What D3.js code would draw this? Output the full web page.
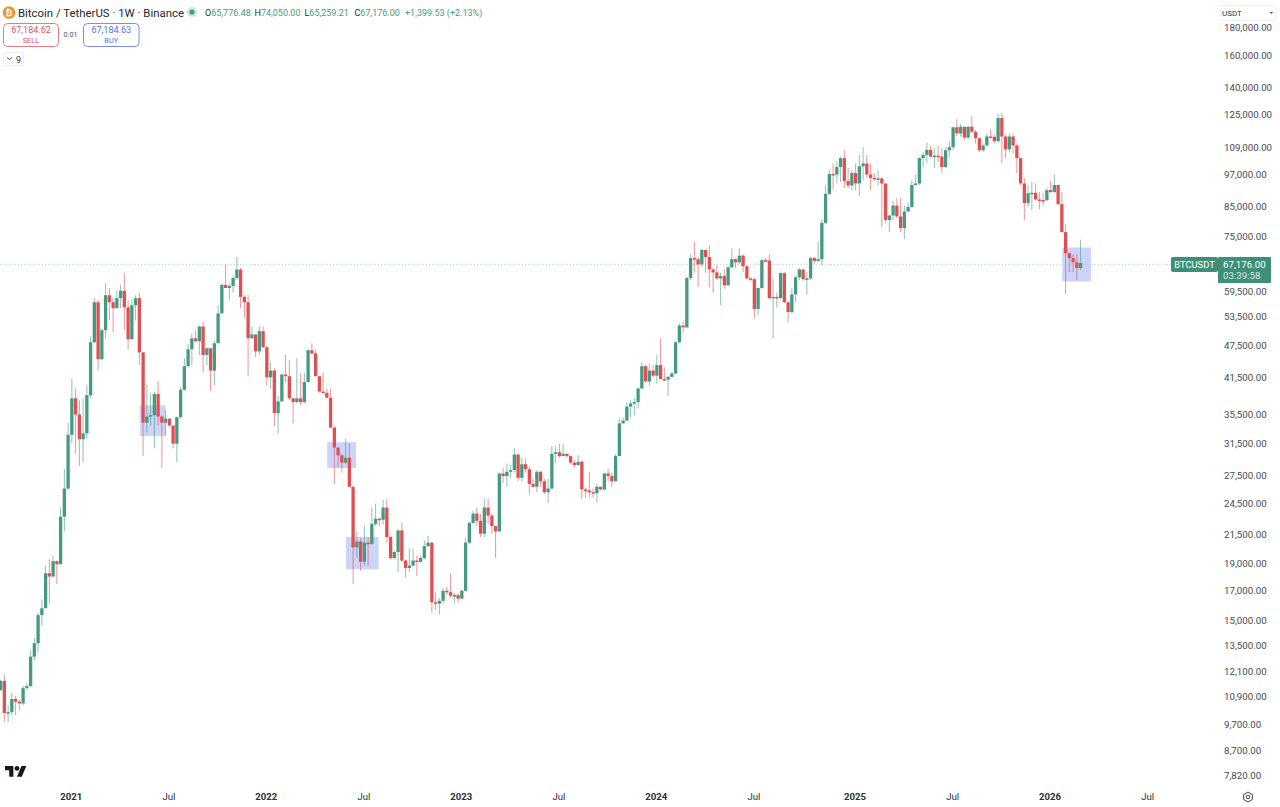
<!DOCTYPE html>
<html><head><meta charset="utf-8">
<script src="https://cdn.jsdelivr.net/npm/d3@7"></script>
<style>
html,body{margin:0;padding:0;background:#fff;overflow:hidden}
svg{display:block;font-family:Roboto,sans-serif}
</style></head><body><div id="chart"></div>
<script>
const firstOpen = 11200;
const closes = [
11650,10180,10220,10800,10680,10600,11300,11400,12900,13650,
15350,15800,18300,18050,19250,19000,23200,26100,32700,38100,
35600,32100,32900,38600,48200,57000,44900,50700,58700,57000,
55600,58000,59800,55800,48800,56300,58000,46200,34400,35300,
35500,38800,35300,34400,35000,34000,31500,35200,39500,43600,
46800,49000,48400,51500,45700,47000,42800,48000,54400,61300,
60500,61000,63100,65400,58300,57000,49000,49800,46400,50500,
47200,41600,42800,35800,37600,42100,41800,38100,37500,38100,
37500,40800,46600,46000,41800,39200,39000,38200,33700,31000,
30000,29100,29700,26300,20400,20900,19200,20800,20700,22500,
23000,22900,24100,21300,19500,20000,21900,19300,18700,18900,
19300,19200,19500,20500,20800,16200,16100,16300,17000,16900,
16650,16700,16450,17000,20800,22600,23500,22800,21600,24100,
23300,22300,21800,27800,27500,28000,28200,30100,27300,28900,
28300,26600,26300,28000,26900,25700,26100,30200,30400,29900,
30200,29900,29100,28800,29200,26000,25900,25700,25600,26300,
26000,27800,27500,26900,29900,34300,34700,36800,37300,37500,
39700,43600,40900,42800,41900,43800,41300,41200,41700,42300,
48200,51700,51300,63100,68600,68300,66800,71000,68900,65400,
64600,63000,63600,61200,66000,68300,67400,69300,66300,63000,
62800,55400,60500,68000,67900,58000,58300,58000,64400,57000,
54700,58900,63300,65400,62800,63000,68600,67800,68300,79500,
89800,97600,97400,100500,104300,94800,93000,98000,93800,100800,
102000,97400,96000,95500,95800,93800,80500,82000,85500,81700,
77800,83400,85000,93200,93800,104300,105700,108000,105000,105400,
105000,100500,107800,109200,118700,115700,119000,113700,119000,116500,
113400,107800,110000,114200,114000,112000,123400,114200,108200,114200,
110000,104300,93800,86400,90000,90200,87700,87500,87400,91200,
90500,93200,86000,76500,70000,68600,67400,65776,67176];
const highs = [
11700,11950,10520,11100,10950,10770,11400,11500,13250,13950,
15500,16400,18900,19400,19700,19300,24100,28300,34400,41400,
39700,37800,38100,40300,49400,58000,57500,51100,61700,60500,
58000,60000,61300,64500,57500,57700,58700,59300,46200,40300,
39000,39200,41000,35500,36300,35000,34000,35300,40000,45100,
47800,50000,50700,51700,52600,47200,47000,48600,56300,61700,
66800,61700,63600,68900,65800,58700,58700,51500,49800,51500,
51500,47400,44300,43200,38600,42300,45700,44700,38200,45100,
42300,42500,46800,48000,46800,41900,42500,39700,39700,33900,
31000,30200,32200,31500,26300,21800,21200,22300,21300,24100,
24500,23100,24900,25000,21400,20100,22000,22600,19400,20300,
20300,19700,19650,21000,21400,20900,16900,16500,17200,17300,
18300,16850,16850,17100,21200,22700,23800,24100,23500,25000,
25000,23500,22300,27900,28500,29000,28800,30900,30200,29700,
29600,28600,27200,28200,28100,27200,27200,31200,31200,31500,
31500,30200,30000,29400,30000,29400,26200,28000,26100,26600,
26300,27900,28400,27900,30200,35000,35200,37500,37800,38100,
39900,44300,43800,44100,43800,45700,49000,43400,41900,42500,
48400,52200,52600,63400,69700,73400,68900,71300,71000,72400,
65800,66500,64500,65500,66500,71500,68600,71500,69700,66500,
63100,63100,60700,68300,68600,69700,62900,59300,64600,64600,
57200,60500,63600,65800,65500,64700,68900,68900,73400,80800,
93000,99200,102000,103000,105000,107800,100000,99200,102000,105700,
109200,105700,102000,98000,99200,96300,93800,82300,87200,88200,
88200,85500,86400,95100,97400,104700,106900,111300,110000,108800,
110000,108800,109000,112000,119000,122800,120300,118700,119300,124400,
117500,113400,110900,115700,117800,115000,125500,126000,115000,115700,
115700,110900,104700,95900,93000,94300,93800,90500,90000,92000,
94800,97400,93200,90500,79000,70200,69700,69700,74050];
const lows = [
11200,9800,9800,10080,10080,10300,10520,11250,11350,12700,
13100,14700,15800,16100,18000,17500,19000,21800,25900,31500,
30200,28700,29100,32200,38200,48000,42800,44700,49000,52800,
50300,55600,55600,50700,46800,48800,52800,43800,29900,33000,
34000,30900,34000,28500,32600,33700,30900,29100,35000,39300,
43400,43800,48200,45700,42400,43800,39300,40300,48000,54400,
60500,57500,59300,62600,55600,53300,41800,49000,45300,45700,
47000,40200,39700,33900,32900,37800,40700,37800,34300,37300,
37000,37300,40700,45700,41800,39000,38800,38100,33600,26600,
28500,27900,28900,26200,17500,19500,18500,18900,18900,20600,
22300,22300,22500,20800,19400,19400,18400,19200,18000,18400,
18900,18100,19100,19400,20400,15500,15700,15400,16100,16700,
16500,16100,16200,16450,16950,20700,22500,22300,21300,21300,
22500,21600,19500,21800,26700,26300,27200,27900,26900,26900,
27900,25500,26200,25700,26300,25500,24600,26000,29100,29700,
29900,29700,28900,28500,28700,25000,25100,25200,25100,24600,
25900,25900,26900,26300,26900,29900,34300,34600,35200,35500,
36500,39700,40700,40200,41600,40500,41400,41000,38500,41600,
42100,48000,50300,51100,62600,64500,60700,66000,64500,60700,
59300,62600,56300,60300,61000,65800,65800,66800,64700,62600,
62400,53300,54000,60300,67400,57700,49000,55800,57700,56800,
52400,54400,57000,62600,62400,58900,62600,67100,67400,66500,
79200,89400,91200,93800,94300,92000,92000,91200,91200,89000,
95000,95900,91200,95000,93000,78100,79500,76500,80500,81100,
76500,74300,83300,84600,93000,93200,100400,102000,104700,100000,
102500,98000,100000,104700,107800,114400,114200,112500,113000,115700,
110900,107000,107000,110000,113800,110900,111300,102000,104300,106800,
106400,98000,93000,80500,85000,83800,87400,84200,85500,87300,
90000,90000,85800,76300,59000,64700,64700,62600,65259];

const priceTicks = [180000,160000,140000,125000,109000,97000,85000,75000,59500,53500,47500,41500,35500,31500,27500,24500,21500,19000,17000,15000,13500,12100,10900,9700,8700,7820];
const timeTickWeeks = [19,45,71,97,123,149,175,201,228,254,280,306];
const timeTickLabels = ["2021","Jul","2022","Jul","2023","Jul","2024","Jul","2025","Jul","2026","Jul"];
const boxStartWeek = [37.1,87.1,92.1,283.1];
const boxEndWeek   = [44,94.8,100.8,290.8];
const boxTopPrice  = [37000,31700,21300,71700];
const boxLowPrice  = [32500,28450,18600,62200];
const lastPrice = 67176;

const GREEN="#459a81", RED="#e04f54", TAG="#3f8f78";
const W=1280,H=807;
const svg=d3.select("#chart").append("svg").attr("width",W).attr("height",H);
const x=d3.scaleLinear().domain([0,288]).range([0.6,1080.6]);
const y=d3.scaleLog().domain([7820,180000]).range([776,28]);

const opens=closes.map((c,i)=>i?closes[i-1]:firstOpen);
const candles=closes.map((c,i)=>({i,o:opens[i],h:highs[i],l:lows[i],c}));

// highlight boxes
svg.append("g").selectAll("rect").data(boxStartWeek).join("rect")
 .attr("x",d=>x(d)).attr("width",(d,i)=>x(boxEndWeek[i])-x(d))
 .attr("y",(d,i)=>y(boxTopPrice[i])).attr("height",(d,i)=>y(boxLowPrice[i])-y(boxTopPrice[i]))
 .attr("fill","#ccd4f9");

// last price line
svg.append("line").attr("x1",0).attr("x2",1218).attr("y1",y(lastPrice)+1.2).attr("y2",y(lastPrice)+1.2)
 .attr("stroke","#a9cdc1").attr("stroke-width",1).attr("stroke-dasharray","1 2");

// candles
const col=d=>d.c>=d.o?GREEN:RED;
const cg=svg.append("g");
cg.selectAll("line").data(candles).join("line")
 .attr("x1",d=>x(d.i)).attr("x2",d=>x(d.i))
 .attr("y1",d=>y(d.h)).attr("y2",d=>y(d.l))
 .attr("stroke",col).attr("stroke-opacity",.6).attr("stroke-width",1);
cg.selectAll("rect").data(candles).join("rect")
 .attr("x",d=>x(d.i)-1.65).attr("width",3.3)
 .attr("y",d=>y(Math.max(d.o,d.c)))
 .attr("height",d=>Math.max(1.5,Math.abs(y(d.o)-y(d.c))))
 .attr("fill",col);

// axes
const ya=svg.append("g").attr("transform","translate(1218,-0.6)")
 .call(d3.axisRight(y).tickValues(priceTicks).tickSize(0).tickPadding(6).tickFormat(d3.format(",.2f")));
ya.select(".domain").remove();
ya.selectAll("text").attr("font-family","Roboto,sans-serif").attr("font-size",9.7).attr("fill","#454953");

const xa=svg.append("g").attr("transform","translate(-1,788)")
 .call(d3.axisBottom(x).tickValues(timeTickWeeks).tickSize(0).tickPadding(5).tickFormat((d,i)=>timeTickLabels[i]));
xa.select(".domain").remove();
xa.selectAll("text").attr("font-family","Roboto,sans-serif").attr("font-size",9.6).attr("fill","#2a2e39")
 .attr("font-weight",(d,i)=>/^\d/.test(timeTickLabels[i])?700:400);

// header
const t=(px,py,s,o={})=>svg.append("text").attr("x",px).attr("y",py).text(s)
 .attr("font-size",o.size||10).attr("fill",o.fill||"#131722").attr("text-anchor",o.anchor||"start")
 .attr("font-weight",o.weight||400).attr("fill-opacity",o.op||1);
svg.append("circle").attr("cx",9).attr("cy",12.5).attr("r",6.3).attr("fill","#f0952b");
t(9,15.5,"₿",{size:8.5,fill:"#fff",anchor:"middle",weight:700});
t(18,16.5,"Bitcoin / TetherUS · 1W · Binance",{size:11.4,fill:"#22262f"});
svg.append("circle").attr("cx",192).attr("cy",12).attr("r",5).attr("fill",GREEN).attr("fill-opacity",.25);
svg.append("circle").attr("cx",192).attr("cy",12).attr("r",2.6).attr("fill",GREEN);
const ohlc=[["O","65,776.48",205],["H","74,050.00",254.5],["L","65,259.21",304.5],["C","67,176.00",354.5]];
ohlc.forEach(([a,b,px])=>{
  const tx=svg.append("text").attr("x",px).attr("y",15.5).attr("font-size",9).attr("fill","#2a2e39");
  tx.append("tspan").text(a);
  tx.append("tspan").attr("fill",GREEN).text(b);
});
t(405,15.5,"+1,399.53 (+2.13%)",{size:9,fill:GREEN});

// sell / buy
[[3,55,"#e57b7f","#d9565b","67,184.62","SELL"],[83,55.5,"#7d8ee8","#5b6fdc","67,184.63","BUY"]].forEach(([bx,bw,st,fg,p,lab])=>{
  svg.append("rect").attr("x",bx+.5).attr("y",23.5).attr("width",bw).attr("height",23).attr("rx",4)
    .attr("fill","#fff").attr("stroke",st);
  t(bx+bw/2+.5,33,p,{size:9,fill:fg,anchor:"middle"});
  t(bx+bw/2+.5,43,lab,{size:7.4,fill:fg,anchor:"middle"});
});
t(70.5,37,"0.01",{size:7.2,fill:"#555",anchor:"middle"});
svg.append("rect").attr("x",3.5).attr("y",52.5).attr("width",20).attr("height",13).attr("rx",2).attr("fill","#fff").attr("stroke","#ececec");
svg.append("path").attr("d","M7 57.5l2.5 2 2.5-2").attr("fill","none").attr("stroke","#444");
t(16,62.5,"9",{size:9,fill:"#333"});

// currency selector
svg.append("rect").attr("x",1220.5).attr("y",5.5).attr("width",56).attr("height",15).attr("rx",3).attr("fill","#fff").attr("stroke","#f1f1f1");
t(1222,16,"USDT",{size:8,fill:"#2a2e39"});
svg.append("path").attr("d","M1269.5 12h3.5l-1.75 2z").attr("fill","#555");

// price tags
svg.append("rect").attr("x",1171).attr("y",257).attr("width",47).attr("height",15).attr("rx",2).attr("fill",TAG);
svg.append("rect").attr("x",1218).attr("y",257).attr("width",53).attr("height",26).attr("rx",1).attr("fill",TAG);
t(1194.5,268,"BTCUSDT",{size:9.4,fill:"#fff",anchor:"middle"});
t(1223,267.5,"67,176.00",{size:9.7,fill:"#fff"});
t(1223,278.5,"03:39:58",{size:9.7,fill:"#d5e8e2"});

// logo
svg.append("g").attr("transform","translate(5,763.6) scale(.6)").call(g=>{
  g.append("path").attr("d","M14 22H7V11H0V4h14v18zM28 22h-8l7.5-18h8L28 22z").attr("fill","#131722");
  g.append("circle").attr("cx",20).attr("cy",8).attr("r",4).attr("fill","#131722");
});
// settings icon
svg.append("path").attr("d",d3.range(6).map(k=>{const a=Math.PI/6+k*Math.PI/3;return (k?"L":"M")+(1248+5*Math.cos(a))+" "+(797+5*Math.sin(a));}).join("")+"Z")
 .attr("fill","none").attr("stroke","#444").attr("stroke-width",1);
svg.append("circle").attr("cx",1248).attr("cy",797).attr("r",1.8).attr("fill","none").attr("stroke","#444");
</script></body></html>
